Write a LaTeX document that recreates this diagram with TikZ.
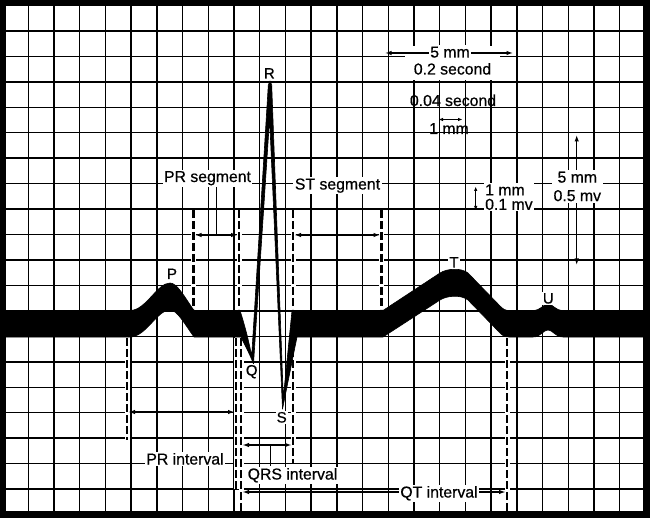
\documentclass[tikz,border=0pt]{standalone}
\usepackage{fontspec}
\setmainfont{Liberation Sans}[FakeBold=0.6]
\usetikzlibrary{arrows.meta}
\begin{document}
\begin{tikzpicture}[x=1pt,y=-1pt,
  gridline/.style={line width=1.4pt, black},
  dim/.style={line width=1.2pt, {Latex[length=6.5pt,width=4.5pt]}-{Latex[length=6.5pt,width=4.5pt]}},
  dimsmall/.style={line width=1.1pt, {Latex[length=4.5pt,width=3.5pt]}-{Latex[length=4.5pt,width=3.5pt]}},
  lead/.style={line width=1.2pt},
  dashwhite/.style={line width=5pt, white},
  dashblack/.style={line width=2.6pt, dash pattern=on 8pt off 3pt},
  lab/.style={font=\fontsize{15.8}{18}\selectfont, inner sep=1.5pt, fill=white, anchor=base},
  plain/.style={font=\fontsize{15.8}{18}\selectfont, inner sep=1pt, anchor=base},
  wave/.style={font=\fontsize{15}{16}\selectfont, inner sep=1.2pt, fill=white, anchor=base},
]
\useasboundingbox (0,0) rectangle (650,518);
\fill[white] (0,0) rectangle (650,518);
% grid
\foreach \k in {1,...,24} \draw[gridline] ({2.5+25.72*\k},3) -- ({2.5+25.72*\k},514.5);
\foreach \k in {1,...,19} \draw[gridline] (3,{5.5+25.45*\k}) -- (646,{5.5+25.45*\k});
% white patch behind top scale labels
\fill[white] (405,46) rectangle (500,80);
% dashed lines
\coordinate (d1t) at (127,338);   \coordinate (d1b) at (127,440);
\coordinate (d2t) at (193.5,210); \coordinate (d2b) at (193.5,309);
\coordinate (d3t) at (239,210);   \coordinate (d3b) at (239,309);
\coordinate (d4t) at (236,338);   \coordinate (d4b) at (236,489);
\coordinate (d5t) at (241,338);   \coordinate (d5b) at (241,514);
\coordinate (d6t) at (293,210);   \coordinate (d6b) at (293,309);
\coordinate (d7t) at (293,338);   \coordinate (d7b) at (293,463);
\coordinate (d8t) at (381.5,210); \coordinate (d8b) at (381.5,309);
\coordinate (d9t) at (507,338);   \coordinate (d9b) at (507,514);
\foreach \n in {1,...,9} \draw[dashwhite] (d\n t) -- (d\n b);
\foreach \n in {1,...,9} \draw[dashblack] (d\n t) -- (d\n b);
% ECG trace
\filldraw[black, line width=0.6pt, line join=round] (2.5,310.5) -- (130,310.5)
 .. controls (146,310.5) and (157,283) .. (170,283)
 .. controls (177,283) and (184,296) .. (194,310.5)
 -- (240,310.5)
 .. controls (245,326) and (249,342) .. (251.7,356)
 -- (268.3,85) -- (270,81) -- (271.7,85)
 -- (283.3,398) -- (292,310.5)
 -- (383,310.5) -- (440,273)
 .. controls (447,268.5) and (461,267.5) .. (468,273)
 -- (500,306) .. controls (503,309) and (505,310.5) .. (509,310.5)
 -- (533,310.5) .. controls (541,310.5) and (543,304) .. (548,304)
 .. controls (553,304) and (555,310.5) .. (563,310.5)
 -- (646,310.5) -- (646,337) -- (563,337)
 .. controls (555,337) and (553,330) .. (548,330)
 .. controls (543,330) and (541,337) .. (533,337)
 -- (509,337) .. controls (505,337) and (503,336) .. (500,333)
 -- (468,300) .. controls (461,294.5) and (447,295.5) .. (440,300)
 -- (383,337) -- (297,337) -- (282.5,409) -- (269.6,118.5) -- (253.5,364)
 .. controls (249,352) and (244,344) .. (241,337)
 -- (194,337) .. controls (184,323) and (177,310) .. (170,310)
 .. controls (157,310) and (146,337) .. (130,337)
 -- (2.5,337) -- cycle;
% border
\draw[line width=7pt] (2.5,2.5) rectangle (646.5,514.5);
% dimension arrows
\coordinate (prsL) at (195,235);   \coordinate (prsR) at (237.5,235);
\coordinate (stsL) at (294.5,235); \coordinate (stsR) at (380,235);
\coordinate (priL) at (128.5,412); \coordinate (priR) at (234.5,412);
\coordinate (qrsL) at (242.5,445); \coordinate (qrsR) at (291.5,445);
\coordinate (qtL) at (242.5,492);  \coordinate (qtR) at (505.5,492);
\coordinate (fmL) at (385,53);     \coordinate (fmR) at (513,53);
\coordinate (omL) at (438.5,119.5); \coordinate (omR) at (462.5,119.5);
\coordinate (ovT) at (475.7,186.5); \coordinate (ovB) at (475.7,210.5);
\coordinate (fvT) at (576.7,135);  \coordinate (fvB) at (576.7,265);
\draw[dim] (prsL) -- (prsR);
\draw[dim] (stsL) -- (stsR);
\draw[dim] (priL) -- (priR);
\draw[dim] (qrsL) -- (qrsR);
\draw[dim] (qtL) -- (qtR);
\draw[dim] (fmL) -- (fmR);
\draw[dimsmall] (omL) -- (omR);
\draw[dimsmall] (ovT) -- (ovB);
\draw[dim] (fvT) -- (fvB);
% labels
\node[lab] (prslab) at (207.5,182) {PR segment};
\node[lab] (stslab) at (337.5,189.5) {ST segment};
\node[lab] (prilab) at (185,464.5) {PR interval};
\node[lab] (qrslab) at (292.5,479.5) {QRS interval};
\node[lab] (qtlab) at (439,497.5) {QT interval};
\node[lab] (fmlab) at (450,57.5) {5 mm};
\node[lab] (seclab) at (452.5,74.5) {0.2 second};
\node[plain] (smlab) at (453,106) {0.04 second};
\node[plain] (omlab) at (449,134) {1 mm};
\node[font=\fontsize{15.8}{14.5}\selectfont, fill=white, inner sep=1pt, align=left, anchor=west] (ovlab) at (484,197.2) {1 mm\\0.1 mv};
\node[font=\fontsize{15.8}{18.5}\selectfont, fill=white, inner sep=2pt, align=center] (fvlab) at (577.3,186.5) {5 mm\\0.5 mv};
% leaders
\coordinate (prsm) at (216.7,235);
\coordinate (qrsm) at (270.7,445);
\draw[lead] (prslab.south -| prsm) -- (prsm);
\draw[lead] (qrsm) -- (qrslab.north -| qrsm);
% wave labels
\node[wave] (P) at (172,279) {P};
\node[wave] (R) at (269.3,78.5) {R};
\node[wave] (Q) at (251.7,375.5) {Q};
\node[wave] (S) at (281.7,422.5) {S};
\node[wave] (T) at (454,267.5) {T};
\node[wave] (U) at (548.3,303.5) {U};
\end{tikzpicture}
\end{document}
